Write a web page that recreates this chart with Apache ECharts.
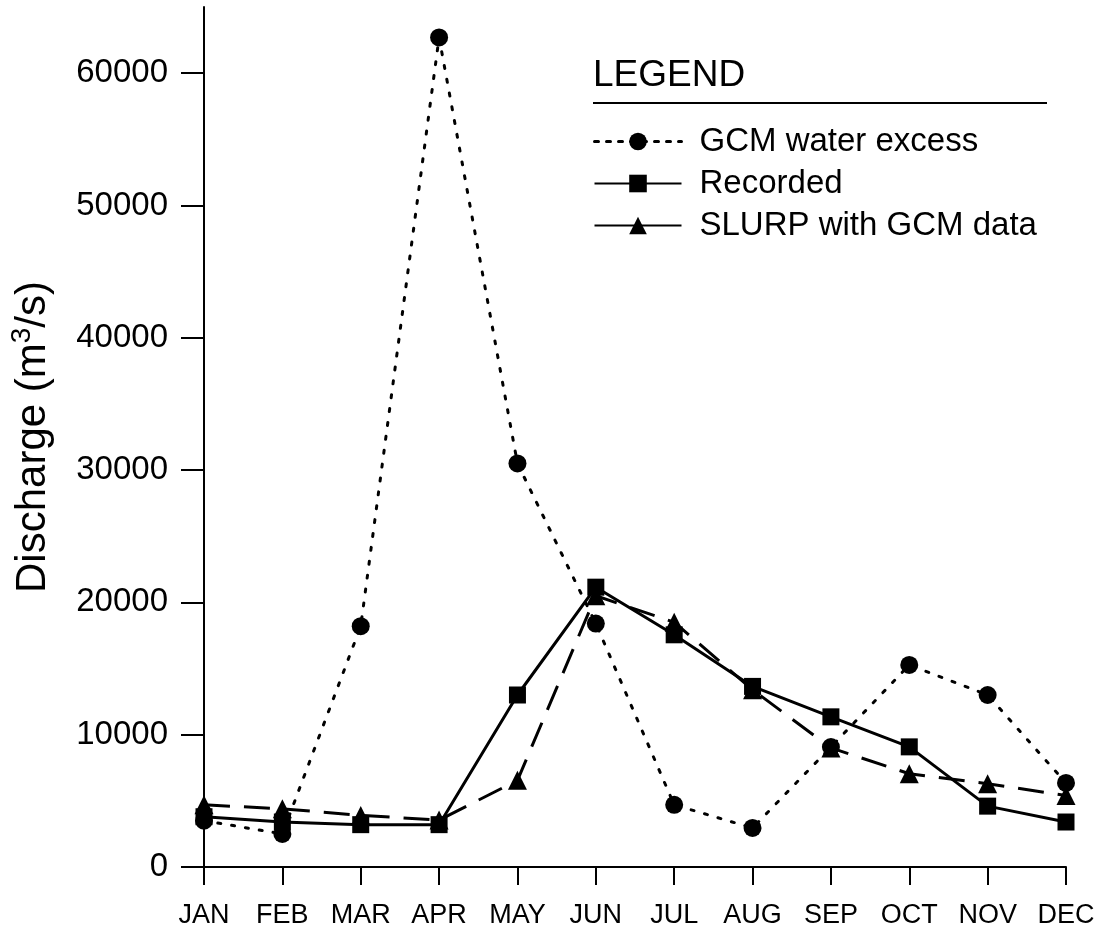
<!DOCTYPE html>
<html><head><meta charset="utf-8">
<script src="https://cdn.jsdelivr.net/npm/echarts@6/dist/echarts.min.js"></script>
<style>html,body{margin:0;padding:0;background:#fff}#c{width:1100px;height:931px}</style>
</head><body><div id="c"></div>
<script>
const months = ['JAN','FEB','MAR','APR','MAY','JUN','JUL','AUG','SEP','OCT','NOV','DEC'];
const gcmWaterExcess = [3500, 2500, 18200, 62700, 30500, 18400, 4700, 2950, 9070, 15270, 13000, 6350];
const recorded = [3800, 3400, 3200, 3200, 13000, 21150, 17550, 13650, 11350, 9080, 4600, 3400];
const slurpGcm = [4700, 4400, 3900, 3550, 6550, 20500, 18500, 13400, 9000, 7050, 6300, 5400];
const yTicks = [0, 10000, 20000, 30000, 40000, 50000, 60000];
const seriesNames = ['GCM water excess', 'Recorded', 'SLURP with GCM data'];

const font = 'Liberation Sans, Arial, sans-serif';
const chart = echarts.init(document.getElementById('c'));
chart.setOption({
  backgroundColor: '#fff',
  animation: false,
  grid: {left: 203, right: 34, top: 7, bottom: 64, containLabel: false},
  xAxis: {
    type: 'category', data: months, boundaryGap: false,
    axisLine: {lineStyle: {color: '#000', width: 2}},
    axisTick: {length: 18, lineStyle: {color: '#000', width: 2}},
    axisLabel: {color: '#000', fontSize: 27, fontFamily: font, margin: 35}
  },
  yAxis: {
    type: 'value', min: 0, max: 65000, interval: 10000,
    splitLine: {show: false},
    axisLine: {show: true, lineStyle: {color: '#000', width: 2}},
    axisTick: {show: true, length: 23, customValues: yTicks, lineStyle: {color: '#000', width: 2}},
    axisLabel: {color: '#000', fontSize: 33, fontFamily: font, margin: 36, customValues: yTicks,
      formatter: function (v) { return String(v); }},
    name: '{a|Discharge (m}{s|3}{a|/s)}',
    nameLocation: 'middle', nameGap: 150, nameRotate: 90,
    nameTextStyle: {
      rich: {
        a: {fontSize: 42, fontFamily: font, color: '#000', verticalAlign: 'bottom'},
        s: {fontSize: 28, fontFamily: font, color: '#000', verticalAlign: 'top', padding: [0,0,18,0]}
      }
    }
  },
  legend: {
    orient: 'vertical', left: 588, top: 120, itemGap: 9,
    itemWidth: 87, itemHeight: 22,
    textStyle: {fontSize: 33, fontFamily: font, color: '#000', padding: [0,0,0,13], lineHeight: 33},
    data: [
      {name: seriesNames[0], itemStyle: {color: '#000'}, lineStyle: {type: [4, 8], width: 3}},
      {name: seriesNames[1], itemStyle: {color: '#000'}, lineStyle: {type: 'solid', width: 2}},
      {name: seriesNames[2], itemStyle: {color: '#000'}, lineStyle: {type: 'solid', width: 2}}
    ]
  },
  graphic: [
    {type: 'text', left: 593, top: 57, style: {text: 'LEGEND', fontSize: 37, fontFamily: font, fill: '#000'}},
    {type: 'line', shape: {x1: 593, y1: 103, x2: 1047, y2: 103}, style: {stroke: '#000', lineWidth: 2}}
  ],
  series: [
    {name: seriesNames[0], type: 'line', data: gcmWaterExcess, symbol: 'circle', symbolSize: 18,
     itemStyle: {color: '#000'}, lineStyle: {color: '#000', width: 3, type: [3, 11], cap: 'round'}, z: 3},
    {name: seriesNames[1], type: 'line', data: recorded, symbol: 'rect', symbolSize: 17,
     itemStyle: {color: '#000'}, lineStyle: {color: '#000', width: 3, type: 'solid'}, z: 4},
    {name: seriesNames[2], type: 'line', data: slurpGcm, symbol: 'triangle', symbolSize: 19,
     itemStyle: {color: '#000'}, lineStyle: {color: '#000', width: 3, type: [26, 14]}, z: 5}
  ]
});
</script></body></html>
